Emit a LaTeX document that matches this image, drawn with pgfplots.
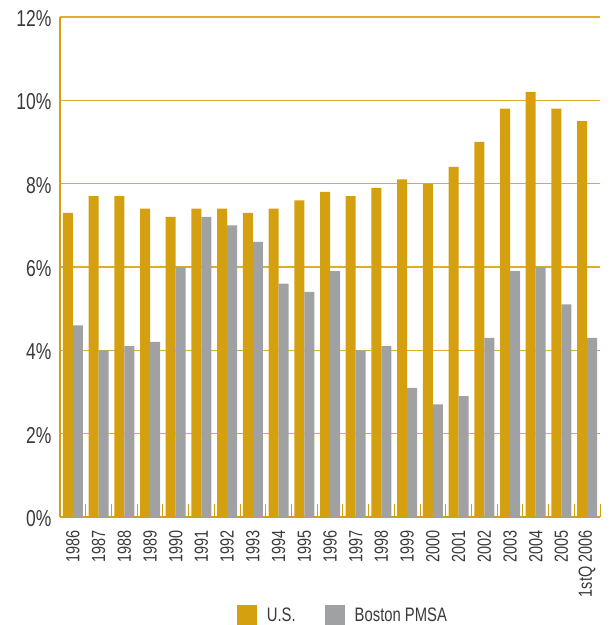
\documentclass[border=0pt]{standalone}
\usepackage{pgfplots}
\pgfplotsset{compat=1.18}
\usepackage{fontspec}
\setmainfont[FakeStretch=0.76]{Liberation Sans}
\definecolor{usgold}{HTML}{D5A010}
\definecolor{bosgray}{HTML}{A0A1A3}
\definecolor{gridgold}{HTML}{DDAE2E}
\definecolor{txt}{HTML}{3A3A3A}
\begin{document}
\begin{tikzpicture}
\begin{axis}[
  width=540pt, height=500pt, scale only axis,
  ymin=0, ymax=12, xmin=-0.5, xmax=20.5,
  ybar, bar width=10pt,
  ytick={0,2,...,12},
  yticklabels={0\%,2\%,4\%,6\%,8\%,10\%,12\%},
  xtick={0,...,20},
  xticklabels={1986,1987,1988,1989,1990,1991,1992,1993,1994,1995,1996,1997,1998,1999,2000,2001,2002,2003,2004,2005,1stQ 2006},
  minor xtick={-0.5,0.5,...,20.5},
  axis lines*=left,
  x axis line style={-},
  y axis line style={-},
  axis line style={usgold, line width=1.8pt},
  ymajorgrids,
  grid style={gridgold, line width=1.6pt},
  major tick length=0pt,
  minor tick length=13pt,
  minor tick style={usgold, line width=0.8pt},
  tick align=inside,
  xticklabel style={rotate=90, anchor=east, font=\fontsize{19}{19}\selectfont, text=txt},
  xticklabel shift=10pt,
  yticklabel style={font=\fontsize{23}{23}\selectfont, text=txt, xshift=-5pt, yshift=-1.5pt},
  legend style={at={(axis description cs:0.524,-0.196)}, anchor=center, draw=none, fill=none,
    legend columns=2, font=\fontsize{19.5}{19.5}\selectfont, text=txt,
    /tikz/every odd column/.append style={column sep=8pt},
    /tikz/every even column/.append style={column sep=27pt}},
]
\addplot[fill=usgold, draw=none, bar shift=-5pt,
  legend image code/.code={\fill[usgold] (0pt,-10pt) rectangle (20pt,10pt);}]
  coordinates {(0,7.3) (1,7.7) (2,7.7) (3,7.4) (4,7.2) (5,7.4) (6,7.4) (7,7.3) (8,7.4) (9,7.6) (10,7.8) (11,7.7) (12,7.9) (13,8.1) (14,8.0) (15,8.4) (16,9.0) (17,9.8) (18,10.2) (19,9.8) (20,9.5)};
\addlegendentry{U.S.}
\addplot[fill=bosgray, draw=none, bar shift=5pt,
  legend image code/.code={\fill[bosgray] (0pt,-10pt) rectangle (20pt,10pt);}]
  coordinates {(0,4.6) (1,4.0) (2,4.1) (3,4.2) (4,6.0) (5,7.2) (6,7.0) (7,6.6) (8,5.6) (9,5.4) (10,5.9) (11,4.0) (12,4.1) (13,3.1) (14,2.7) (15,2.9) (16,4.3) (17,5.9) (18,6.0) (19,5.1) (20,4.3)};
\addlegendentry{Boston PMSA}
\end{axis}
\pgfresetboundingbox
\path ([shift={(-60pt,-108pt)}]current axis.south west) rectangle ([shift={(10pt,17pt)}]current axis.north east);
\end{tikzpicture}
\end{document}
